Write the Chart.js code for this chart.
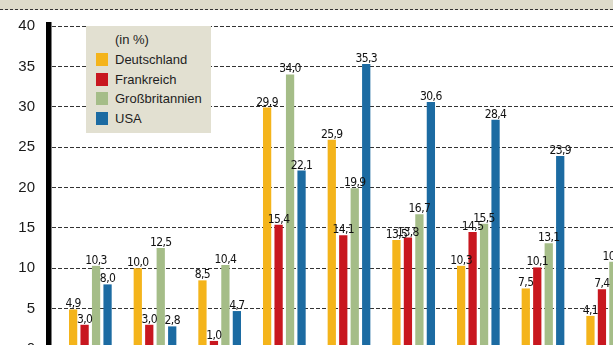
<!DOCTYPE html>
<html>
<head>
<meta charset="utf-8">
<script src="https://cdn.jsdelivr.net/npm/chart.js@4/dist/chart.umd.min.js"></script>
<style>
html, body { margin: 0; padding: 0; background: #fff; overflow: hidden; width: 613px; height: 345px; }
#chart { position: absolute; left: 0; top: 0; }
#band { position: absolute; left: 0; top: 0; width: 613px; height: 9px; background: #dddbca; border-bottom: 1px dashed #333; }
#legend { position: absolute; left: 86px; top: 26px; width: 125px; height: 107px; background: #e2e0d1;
  font-family: "Liberation Sans", Arial, sans-serif; font-size: 13px; color: #1e1e1e; }
#legend .title { position: absolute; left: 29px; top: 4px; height: 20px; line-height: 20px; }
#legend .row { position: absolute; left: 10px; height: 20px; line-height: 20px; white-space: nowrap; }
#legend .sw { display: inline-block; width: 12px; height: 13px; vertical-align: -2px; margin-right: 7px; }
</style>
</head>
<body>
<canvas id="chart" width="640" height="375"></canvas>
<div id="band"></div>
<div id="legend"><div class="title">(in %)</div></div>
<script>
var categories = ['Gruppe 1', 'Gruppe 2', 'Gruppe 3', 'Gruppe 4', 'Gruppe 5', 'Gruppe 6', 'Gruppe 7', 'Gruppe 8', 'Gruppe 9'];
var seriesNames = ['Deutschland', 'Frankreich', 'Großbritannien', 'USA'];
var deutschland     = [4.9, 10.0, 8.5, 29.9, 25.9, 13.5, 10.3, 7.5, 4.1];
var frankreich      = [3.0, 3.0, 1.0, 15.4, 14.1, 13.8, 14.5, 10.1, 7.4];
var grossbritannien = [10.3, 12.5, 10.4, 34.0, 19.9, 16.7, 15.5, 13.1, 10.8];
var usa             = [8.0, 2.8, 4.7, 22.1, 35.3, 30.6, 28.4, 23.9, null];
var yTicks = [0, 5, 10, 15, 20, 25, 30, 35, 40];

var COLORS = ['#f4b41b', '#c8171f', '#a5bd88', '#1c6ba2'];
var seriesValues = [deutschland, frankreich, grossbritannien, usa];

// legend box (html)
var legend = document.getElementById('legend');
seriesNames.forEach(function(name, i) {
    var row = document.createElement('div');
    row.className = 'row';
    row.style.top = (24 + i * 19.7) + 'px';
    row.innerHTML = '<span class="sw" style="background:' + COLORS[i] + '"></span>' + name;
    legend.appendChild(row);
});

var axisLine = {
    id: 'axisLine',
    afterDraw: function(chart) {
        var a = chart.chartArea, ctx = chart.ctx;
        ctx.save();
        ctx.fillStyle = '#000';
        ctx.fillRect(a.left - 12, a.top - 4, 5.5, a.bottom - a.top + 20);
        ctx.restore();
    }
};

var valueLabels = {
    id: 'valueLabels',
    afterDatasetsDraw: function(chart) {
        var ctx = chart.ctx;
        ctx.save();
        ctx.font = '12px "Liberation Sans Narrow", "DejaVu Sans Condensed", "Liberation Sans", sans-serif';
        ctx.letterSpacing = '-0.6px';
        ctx.fillStyle = '#111';
        ctx.textAlign = 'center';
        ctx.textBaseline = 'alphabetic';
        chart.data.datasets.forEach(function(ds, i) {
            chart.getDatasetMeta(i).data.forEach(function(bar, j) {
                var v = ds.data[j];
                if (v == null) return;
                ctx.fillText(v.toFixed(1).replace('.', ','), bar.x, bar.y - 2);
            });
        });
        ctx.restore();
    }
};

new Chart(document.getElementById('chart'), {
    type: 'bar',
    data: {
        labels: categories,
        datasets: seriesNames.map(function(name, i) {
            return {
                label: name,
                data: seriesValues[i],
                backgroundColor: COLORS[i],
                borderWidth: 0,
                categoryPercentage: 0.71,
                barPercentage: 0.72
            };
        })
    },
    options: {
        responsive: false,
        animation: false,
        layout: { padding: { top: 26, right: 0, bottom: 12, left: 0 } },
        plugins: {
            legend: { display: false },
            tooltip: { enabled: false }
        },
        scales: {
            x: { display: false },
            y: {
                min: 0,
                max: 40,
                afterFit: function(scale) { scale.width = 58; },
                afterBuildTicks: function(scale) {
                    scale.ticks = yTicks.map(function(v) { return { value: v }; });
                },
                ticks: {
                    padding: 17,
                    color: '#1a1a1a',
                    font: { family: '"Liberation Sans", Arial, sans-serif', size: 15 }
                },
                grid: {
                    color: '#333',
                    lineWidth: 1,
                    tickColor: '#333',
                    tickLength: 6,
                    tickBorderDash: [4, 2]
                },
                border: { display: false, dash: [4, 2] }
            }
        }
    },
    plugins: [axisLine, valueLabels]
});
</script>
</body>
</html>
